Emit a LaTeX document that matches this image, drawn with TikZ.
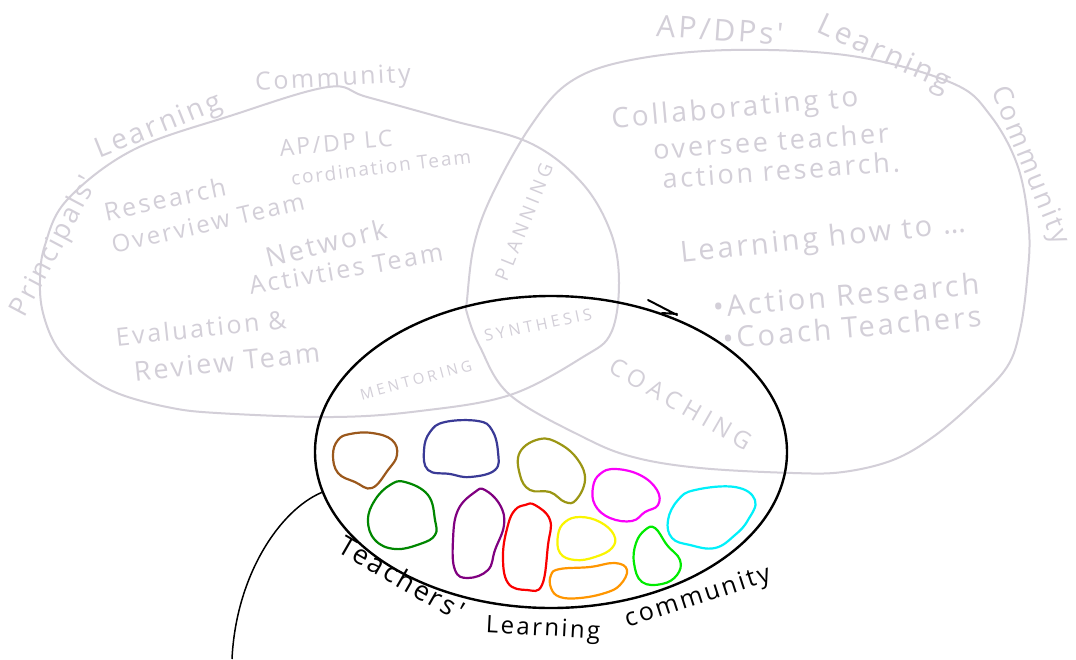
\documentclass[tikz,border=0pt]{standalone}
\usepackage{fontspec}
\setmainfont{Open Sans}
\newfontfamily\hand[LetterSpace=10]{Open Sans}
\newfontfamily\handcaps[LetterSpace=22]{Open Sans}
\usetikzlibrary{shapes.geometric}
\definecolor{lg}{RGB}{211,207,216}
\definecolor{cbrown}{RGB}{155,88,28}
\definecolor{cnavy}{RGB}{58,58,150}
\definecolor{colive}{RGB}{155,150,20}
\definecolor{cmag}{RGB}{250,0,250}
\definecolor{ccyan}{RGB}{0,240,250}
\definecolor{cdgreen}{RGB}{0,135,0}
\definecolor{cpurple}{RGB}{128,0,128}
\definecolor{cred}{RGB}{250,0,0}
\definecolor{cyel}{RGB}{250,245,0}
\definecolor{corange}{RGB}{255,150,0}
\definecolor{clime}{RGB}{0,235,0}
\newcommand{\fsz}[1]{\fontsize{#1}{#1}\selectfont}
\begin{document}
\begin{tikzpicture}[x=1pt,y=-1pt,
  gline/.style={draw=lg, line width=2pt, line join=round},
  glab/.style={text=lg, inner sep=0pt, font=\hand},
  gcap/.style={text=lg, inner sep=0pt, font=\handcaps},
  blab/.style={text=black, inner sep=0pt, font=\hand},
  blob/.style={line width=2.2pt, line join=round}]
\useasboundingbox (0,0) rectangle (1076,659);
\fill[white] (0,0) rectangle (1076,659);

% Principals' learning community outline
\draw[gline] plot[smooth cycle, tension=0.6] coordinates {
 (328,87) (367,97) (450,120) (530,143) (582,183) (611,233) (619,283)
 (611,333) (583,357) (510,395) (420,411) (333,417) (217,413) (167,407)
 (117,393) (83,373) (57,347) (43,313) (40,280) (45,245) (67,200)
 (133,150) (233,115)};

% AP/DPs' learning community outline
\draw[gline] plot[smooth cycle, tension=0.6] coordinates {
 (467,300) (474,245) (492,195) (530,127) (570,82) (631,60) (731,50)
 (852,56) (952,83) (990,115) (1018,167) (1029,230) (1027,280) (1020,330)
 (1007,367) (973,403) (933,437) (893,460) (843,472) (793,473) (700,468)
 (633,457) (583,437) (510,395) (480,347) (467,313)};

% Teachers' learning community
\node[draw, ellipse, line width=2.4pt, minimum width=472pt, minimum height=312pt, inner sep=0pt] (tlc) at (551,452) {};
\coordinate (tailend) at (232,659);
\draw[line width=1.5pt] (tlc.190) .. controls (280,510) and (236,575) .. (tailend);
\draw[line width=2pt, line cap=round] (648,300) -- (677,315) (662,313) -- (677,314);

% groups of teachers
\draw[blob, cbrown] plot[smooth cycle, tension=0.7] coordinates {(350,434) (372,433) (392,440) (397,455) (388,470) (372,488) (355,482) (338,473) (333,455) (338,440)};
\draw[blob, cnavy] plot[smooth cycle, tension=0.7] coordinates {(445,422) (478,421) (492,430) (498,452) (495,470) (470,477) (450,474) (428,470) (424,450) (430,432)};
\draw[blob, colive] plot[smooth cycle, tension=0.7] coordinates {(540,439) (560,444) (578,460) (585,480) (576,500) (565,502) (550,492) (530,490) (520,475) (520,452)};
\draw[blob, cmag] plot[smooth cycle, tension=0.7] coordinates {(615,469) (640,475) (657,490) (658,505) (645,512) (632,521) (610,518) (595,505) (593,487) (600,474)};
\draw[blob, ccyan] plot[smooth cycle, tension=0.7] coordinates {(695,490) (735,487) (755,500) (748,520) (735,535) (715,548) (690,545) (672,538) (668,520) (678,500)};
\draw[blob, cdgreen] plot[smooth cycle, tension=0.7] coordinates {(390,485) (405,482) (428,495) (435,520) (435,535) (420,544) (395,549) (375,540) (368,520) (375,500)};
\draw[blob, cpurple] plot[smooth cycle, tension=0.7] coordinates {(475,492) (485,490) (500,505) (504,525) (495,550) (488,570) (468,578) (455,570) (453,540) (458,510)};
\draw[blob, cred] plot[smooth cycle, tension=0.7] coordinates {(525,505) (535,505) (550,520) (548,545) (542,585) (527,590) (508,583) (503,555) (508,525) (515,510)};
\draw[blob, cyel] plot[smooth cycle, tension=0.7] coordinates {(580,517) (600,522) (614,535) (612,548) (595,557) (575,560) (560,553) (558,535) (565,522)};
\draw[blob, corange] plot[smooth cycle, tension=0.7] coordinates {(560,569) (590,567) (615,563) (627,570) (620,585) (605,593) (580,598) (560,597) (551,588) (551,575)};
\draw[blob, clime] plot[smooth cycle, tension=0.7] coordinates {(645,530) (655,528) (667,545) (680,560) (677,575) (662,584) (642,582) (634,563) (636,543)};

% Principals' titles
\node[glab, rotate=62] (p1) at (55,247) {\fsz{27}Principals'};
\node[glab, rotate=22] (p2) at (159,127) {\fsz{28}Learning};
\node[glab, rotate=3] (p3) at (333,80) {\fsz{25}Community};
\node[glab, rotate=5] (p4) at (336,143) {\fsz{23}AP/DP LC};
\node[glab, rotate=7] (p5) at (381,167) {\fsz{19}cordination Team};
\node[glab, rotate=12] (p6) at (165,199) {\fsz{25}Research};
\node[glab, rotate=13] (p7) at (208,223) {\fsz{24}Overview Team};
\node[glab, rotate=14] (p8) at (326,243) {\fsz{27}Network};
\node[glab, rotate=10] (p9) at (346,269) {\fsz{25}Activties Team};
\node[glab, rotate=6] (p10) at (201,328) {\fsz{25}Evaluation \&};
\node[glab, rotate=6] (p11) at (227,362) {\fsz{27}Review Team};

% AP/DP titles
\node[glab, rotate=-4] (a1) at (720,30) {\fsz{30}AP/DPs'};
\node[glab, rotate=-25] (a2) at (884,55) {\fsz{30}Learning};
\node[glab, rotate=-68] (a3) at (1029,166) {\fsz{27}Community};
\node[glab, rotate=5] (a4) at (735,110) {\fsz{28}Collaborating to};
\node[glab, rotate=4] (a5) at (771,141) {\fsz{27}oversee teacher};
\node[glab, rotate=4] (a6) at (781,170) {\fsz{27}action research.};
\node[glab, rotate=6] (a7) at (823,240) {\fsz{29}Learning how to \dots};
\node[glab, rotate=5] (a8) at (846,295) {\fsz{29}\textbullet Action Research};
\node[glab, rotate=5] (a9) at (852,327) {\fsz{29}\textbullet Coach Teachers};

% overlap labels
\node[gcap, rotate=68] (o1) at (524,222) {\fsz{19}PLANNING};
\node[gcap, rotate=12] (o2) at (538,325) {\fsz{16}SYNTHESIS};
\node[gcap, rotate=15] (o3) at (416,380) {\fsz{15}MENTORING};
\node[gcap, rotate=-30] (o4) at (681,404) {\fsz{24}COACHING};

% Teachers' title
\node[blab, rotate=-30] (t1) at (402,578) {\fsz{27}Teachers'};
\node[blab, rotate=-3] (t2) at (543,630) {\fsz{24}Learning};
\node[blab, rotate=18] (t3) at (698,598) {\fsz{25}community};
\end{tikzpicture}
\end{document}
